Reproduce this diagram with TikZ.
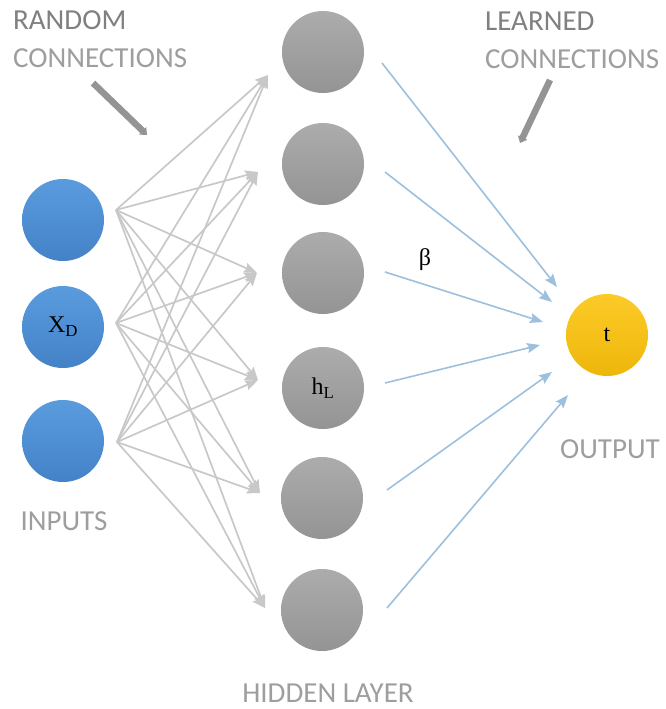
\documentclass[tikz,border=0pt]{standalone}
\usepackage{fontspec}
\setmainfont{Liberation Serif}
\newfontfamily\capfont{Carlito}
\usetikzlibrary{arrows.meta}

\definecolor{inTop}{RGB}{90,155,222}
\definecolor{inBot}{RGB}{68,130,200}
\definecolor{hidTop}{RGB}{172,172,172}
\definecolor{hidBot}{RGB}{148,148,148}
\definecolor{outTop}{RGB}{252,203,40}
\definecolor{outBot}{RGB}{238,182,10}
\definecolor{edgeGray}{RGB}{200,200,200}
\definecolor{edgeBlue}{RGB}{156,192,222}
\definecolor{capGray}{RGB}{158,158,158}

\begin{document}
\begin{tikzpicture}[x=1pt, y=-1pt, >=Stealth]

  % ---------- Styling ----------
  \tikzset{
    unit/.style={circle, minimum size=82pt, inner sep=0pt, font=\fontsize{24}{26}\selectfont},
    inputnode/.style={unit, top color=inTop, bottom color=inBot},
    hiddennode/.style={unit, top color=hidTop, bottom color=hidBot},
    outputnode/.style={unit, top color=outTop, bottom color=outBot},
    randomedge/.style={draw=edgeGray, line width=1.7pt, -{Stealth[length=13pt, width=10pt, inset=2pt]}},
    learnededge/.style={draw=edgeBlue, line width=1.6pt, -{Stealth[length=13pt, width=10pt, inset=2pt]}},
    pointer/.style={draw=black!42, line width=6.5pt, -{Triangle[length=6pt, width=10pt]}},
    caption/.style={font=\capfont\fontsize{29}{31}\selectfont, text=capGray, inner sep=0pt}
  }

  \useasboundingbox (0,0) rectangle (666,709);

  % ---------- Units ----------
  \node[inputnode] (in1) at (63,220) {};
  \node[inputnode] (in2) at (63,327) {X\textsubscript{D}};
  \node[inputnode] (in3) at (63,441) {};

  \node[hiddennode] (h1) at (323,52) {};
  \node[hiddennode] (h2) at (323,164) {};
  \node[hiddennode] (h3) at (323,273) {};
  \node[hiddennode] (h4) at (323,388) {h\textsubscript{L}};
  \node[hiddennode] (h5) at (322,498) {};
  \node[hiddennode] (h6) at (322,610) {};

  \node[outputnode] (out) at (607,335) {t};

  % ---------- Random connections ----------
  \coordinate (f1) at (116,210);
  \coordinate (f2) at (116,323);
  \coordinate (f3) at (117,442);

  \coordinate (t1) at (268,75);
  \coordinate (t2) at (258,172);
  \coordinate (t3) at (257,273);
  \coordinate (t4) at (258,380);
  \coordinate (t5) at (260,493);
  \coordinate (t6) at (265,608);

  \foreach \i in {1,2,3}
    \foreach \k in {1,...,6}
      \draw[randomedge] (f\i) -- (t\k);

  % ---------- Learned connections ----------
  \coordinate (s1) at (382,63);
  \coordinate (s2) at (385,172);
  \coordinate (s3) at (385,272);
  \coordinate (s4) at (385,383);
  \coordinate (s5) at (387,490);
  \coordinate (s6) at (387,608);

  \coordinate (e1) at (557,287);
  \coordinate (e2) at (552,302);
  \coordinate (e3) at (543,322);
  \coordinate (e4) at (540,345);
  \coordinate (e5) at (552,372);
  \coordinate (e6) at (568,395);

  \foreach \k in {1,...,6}
    \draw[learnededge] (s\k) -- (e\k);

  \node[font=\fontsize{24}{26}\selectfont] (beta) at (425,260) {β};

  % ---------- Captions ----------
  \node[caption, anchor=base west, text=black!50] (random) at (13,30) {RANDOM};
  \node[caption, anchor=base west] (randomconn) at (13,67) {CONNECTIONS};
  \node[caption, anchor=base west, text=black!50] (learned) at (485,31) {LEARNED};
  \node[caption, anchor=base west] (learnedconn) at (485,68) {CONNECTIONS};

  \node[caption, anchor=base] (inputs) at (64,530) {INPUTS};
  \node[caption, anchor=base] (hidden) at (328,702) {HIDDEN LAYER};
  \node[caption, anchor=base] (output) at (610,458) {OUTPUT};

  % pointers
  \coordinate (rp1) at (93,83);
  \coordinate (rp2) at (147,135);
  \coordinate (lp1) at (550,80);
  \coordinate (lp2) at (520,143);
  \draw[pointer] (rp1) -- (rp2);
  \draw[pointer] (lp1) -- (lp2);

\end{tikzpicture}
\end{document}
